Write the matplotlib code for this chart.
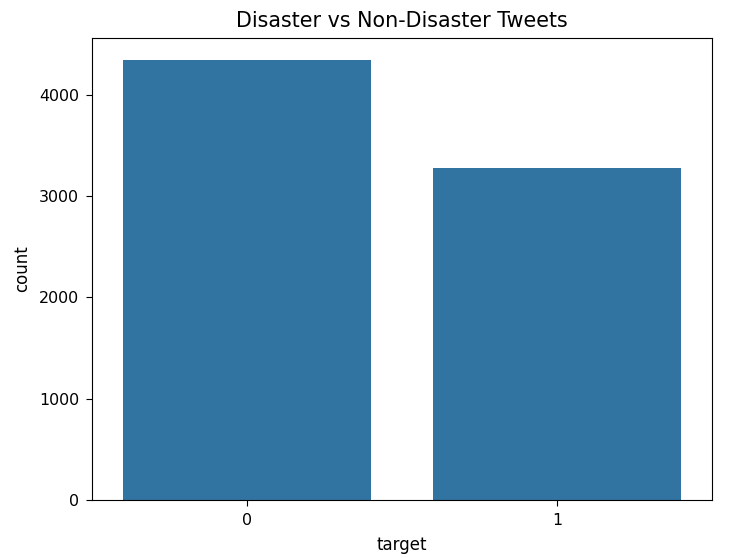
import matplotlib
matplotlib.use("Agg")
import matplotlib.pyplot as plt
import seaborn as sns
import pandas as pd

categories = ["0", "1"]
counts = [4342, 3271]

df = pd.DataFrame({"target": categories, "count": counts})

plt.rcParams["font.size"] = 12
plt.rcParams["xtick.labelsize"] = 11.4
plt.rcParams["ytick.labelsize"] = 11.4
plt.rcParams["xtick.major.size"] = 4.3
plt.rcParams["ytick.major.size"] = 4.3
plt.rcParams["xtick.major.pad"] = 5.0
plt.rcParams["ytick.major.pad"] = 5.0
plt.rcParams["axes.labelpad"] = 5.8
fig = plt.figure(figsize=(7.42, 5.58), dpi=100)
ax = fig.add_axes([0.124, 0.104, 0.836, 0.828])
sns.barplot(data=df, x="target", y="count", color="#1f77b4", saturation=0.75, ax=ax)
ax.set_title("Disaster vs Non-Disaster Tweets", fontsize=14.9, pad=8)
ax.set_xlabel("target")
ax.set_ylabel("count")
fig.savefig("out.png", dpi=100)
